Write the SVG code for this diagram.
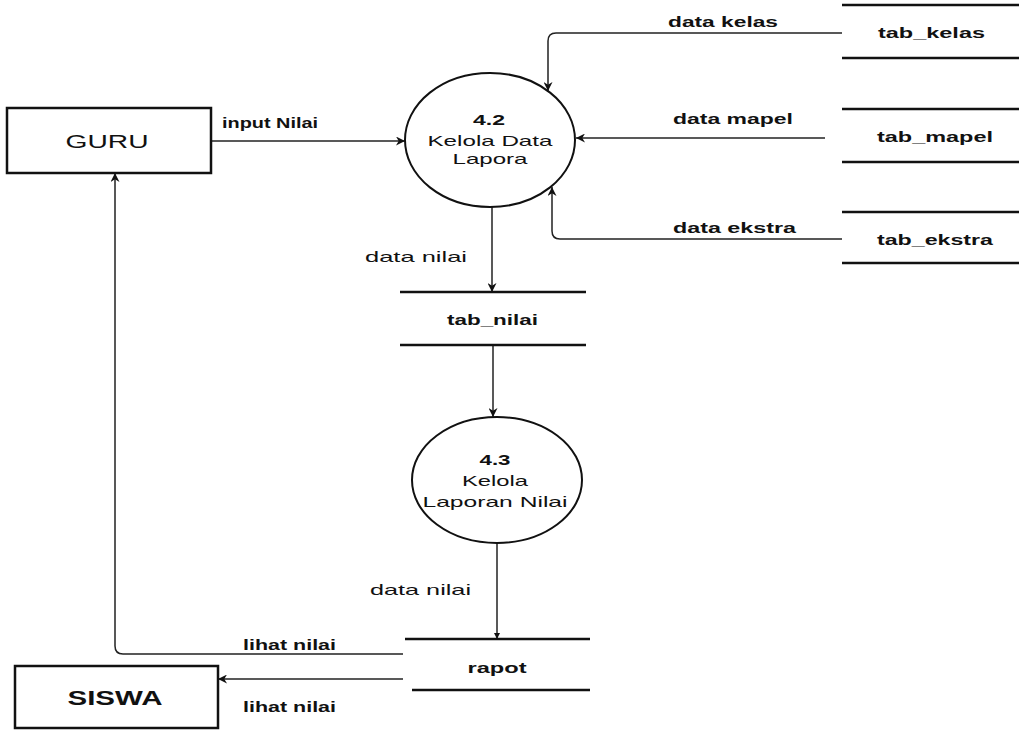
<svg xmlns="http://www.w3.org/2000/svg" width="1019" height="732" viewBox="0 0 1019 732">
<style>
text{font-family:"Liberation Sans",Arial,sans-serif;fill:#111;}
.lbl{font-size:15px;font-weight:bold;}
.lblr{font-size:15px;}
.proc{font-size:15px;text-anchor:middle;}
.ent{fill:none;stroke:#111;stroke-width:2.5;}
.store{stroke:#111;stroke-width:2.5;}
.circ{fill:none;stroke:#111;stroke-width:2;}
.flow{fill:none;stroke:#222;stroke-width:1.5;}
</style>
<defs>
<marker id="ah" viewBox="0 0 10 10" refX="10" refY="5" markerWidth="9" markerHeight="9" markerUnits="userSpaceOnUse" orient="auto">
<path d="M0,0 L10,5 L0,10 L3,5 Z" fill="#111"/>
</marker>
<marker id="ahs" viewBox="0 0 10 10" refX="10" refY="5" markerWidth="6" markerHeight="6" markerUnits="userSpaceOnUse" orient="auto">
<path d="M0,0 L10,5 L0,10 Z" fill="#111"/>
</marker>
</defs>
<rect width="1019" height="732" fill="#fff"/>

<g id="connectors">
<path class="flow" d="M211,141 H405" marker-end="url(#ah)"/>
<path class="flow" d="M842,33 H556 Q548,33 548,41 V91" marker-end="url(#ah)"/>
<path class="flow" d="M825,138 H576" marker-end="url(#ah)"/>
<path class="flow" d="M842,239 H560 Q552,239 552,231 V187" marker-end="url(#ah)"/>
<path class="flow" d="M492,207 V292" marker-end="url(#ah)"/>
<path class="flow" d="M493,345 V417" marker-end="url(#ah)"/>
<path class="flow" d="M497,543 V639" marker-end="url(#ahs)"/>
<path class="flow" d="M403,654 H123 Q115,654 115,646 V173" marker-end="url(#ah)"/>
<path class="flow" d="M403,679 H218" marker-end="url(#ah)"/>
<text class="lbl" x="222" y="128" textLength="96" lengthAdjust="spacingAndGlyphs">input Nilai</text>
<text class="lbl" x="668" y="27" textLength="110" lengthAdjust="spacingAndGlyphs">data kelas</text>
<text class="lbl" x="673" y="124" textLength="120" lengthAdjust="spacingAndGlyphs">data mapel</text>
<text class="lbl" x="673" y="233" textLength="123" lengthAdjust="spacingAndGlyphs">data ekstra</text>
<text class="lblr" x="365" y="262" textLength="102" lengthAdjust="spacingAndGlyphs">data nilai</text>
<text class="lblr" x="370" y="595" textLength="101" lengthAdjust="spacingAndGlyphs">data nilai</text>
<text class="lbl" x="243" y="650" textLength="93" lengthAdjust="spacingAndGlyphs">lihat nilai</text>
<text class="lbl" x="243" y="712" textLength="93" lengthAdjust="spacingAndGlyphs">lihat nilai</text>
</g>

<g id="guru">
<rect class="ent" x="7" y="108" width="204" height="65"/>
<text x="107" y="148" font-size="18" text-anchor="middle" textLength="83" lengthAdjust="spacingAndGlyphs">GURU</text>
</g>

<g id="siswa">
<rect class="ent" x="15" y="666" width="203" height="62"/>
<text x="115" y="705" font-size="20" font-weight="bold" text-anchor="middle" textLength="95" lengthAdjust="spacingAndGlyphs">SISWA</text>
</g>

<g id="p42">
<ellipse class="circ" cx="490" cy="140" rx="85" ry="67"/>
<text class="proc" x="489" y="125" font-weight="bold" textLength="32" lengthAdjust="spacingAndGlyphs">4.2</text>
<text class="proc" x="490" y="146" textLength="125" lengthAdjust="spacingAndGlyphs">Kelola Data</text>
<text class="proc" x="490" y="164" textLength="75" lengthAdjust="spacingAndGlyphs">Lapora</text>
</g>

<g id="p43">
<ellipse class="circ" cx="497" cy="480" rx="85" ry="63"/>
<text class="proc" x="495" y="465" font-weight="bold" textLength="31" lengthAdjust="spacingAndGlyphs">4.3</text>
<text class="proc" x="495" y="486" textLength="66" lengthAdjust="spacingAndGlyphs">Kelola</text>
<text class="proc" x="495" y="507" textLength="145" lengthAdjust="spacingAndGlyphs">Laporan Nilai</text>
</g>

<g id="tab_kelas">
<line class="store" x1="842" y1="5" x2="1019" y2="5"/>
<line class="store" x1="842" y1="58" x2="1019" y2="58"/>
<text class="lbl" x="878" y="38" textLength="107" lengthAdjust="spacingAndGlyphs">tab_kelas</text>
</g>

<g id="tab_mapel">
<line class="store" x1="842" y1="109" x2="1019" y2="109"/>
<line class="store" x1="842" y1="162" x2="1019" y2="162"/>
<text class="lbl" x="877" y="142" textLength="116" lengthAdjust="spacingAndGlyphs">tab_mapel</text>
</g>

<g id="tab_ekstra">
<line class="store" x1="842" y1="212" x2="1019" y2="212"/>
<line class="store" x1="842" y1="263" x2="1019" y2="263"/>
<text class="lbl" x="877" y="245" textLength="116" lengthAdjust="spacingAndGlyphs">tab_ekstra</text>
</g>

<g id="tab_nilai">
<line class="store" x1="400" y1="292" x2="586" y2="292"/>
<line class="store" x1="400" y1="345" x2="586" y2="345"/>
<text class="lbl" x="447" y="325" textLength="91" lengthAdjust="spacingAndGlyphs">tab_nilai</text>
</g>

<g id="rapot">
<line class="store" x1="405" y1="639" x2="590" y2="639"/>
<line class="store" x1="412" y1="690" x2="590" y2="690"/>
<text class="lbl" x="497" y="673" text-anchor="middle" textLength="59" lengthAdjust="spacingAndGlyphs">rapot</text>
</g>
</svg>
